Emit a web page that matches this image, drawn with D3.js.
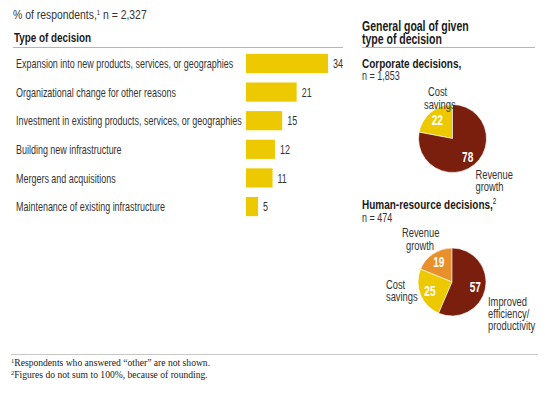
<!DOCTYPE html>
<html>
<head>
<meta charset="utf-8">
<script src="https://cdn.jsdelivr.net/npm/d3@7"></script>
<style>
  body { margin: 0; background: #fff; }
  svg { display: block; }
  .sans { font-family: 'Liberation Sans', Arial, sans-serif; }
  .serif { font-family: 'Liberation Serif', 'DejaVu Serif', serif; }
</style>
</head>
<body>
<div id="chart"></div>
<script>
// ── data ────────────────────────────────────────────────────────────
const decisionTypes = [
  'Expansion into new products, services, or geographies',
  'Organizational change for other reasons',
  'Investment in existing products, services, or geographies',
  'Building new infrastructure',
  'Mergers and acquisitions',
  'Maintenance of existing infrastructure'
];
const decisionShares = [34, 21, 15, 12, 11, 5];

const corporateGoals = ['Cost savings', 'Revenue growth'];
const corporateShares = [22, 78];

const hrGoals = ['Revenue growth', 'Cost savings', 'Improved efficiency/productivity'];
const hrShares = [19, 25, 57];

const footnotes = [
  ['1', 'Respondents who answered “other” are not shown.'],
  ['2', 'Figures do not sum to 100%, because of rounding.']
];

// ── setup ───────────────────────────────────────────────────────────
const width = 545, height = 394;
const YELLOW = '#ecc900', BROWN = '#7a1f0e', ORANGE = '#e8902b';

const svg = d3.select('#chart').append('svg')
  .attr('width', width).attr('height', height)
  .attr('viewBox', [0, 0, width, height]);

const left  = svg.append('g').attr('class', 'sans');
const right = svg.append('g').attr('class', 'sans');
const notes = svg.append('g').attr('class', 'serif');

// condensed text helper (no condensed face installed, so squeeze horizontally)
function ctext(g, x, y, size, bold, squeeze = 0.7) {
  return g.append('text')
    .attr('transform', `translate(${x},${y}) scale(${squeeze},1)`)
    .attr('font-size', size)
    .attr('font-weight', bold ? 'bold' : 'normal')
    .attr('fill', bold ? '#1a1a1a' : '#333');
}

// ── bar chart ───────────────────────────────────────────────────────
const subtitle = ctext(left, 13, 19, 13, false, 0.8);
subtitle.append('tspan').text('% of respondents,');
subtitle.append('tspan').attr('font-size', 7.5).attr('dy', -4.5).text('1');
subtitle.append('tspan').attr('dy', 4.5).text(' n = 2,327');

ctext(left, 14, 42, 13, true, 0.76).text('Type of decision');
left.append('line').attr('x1', 13).attr('x2', 343).attr('y1', 47.5).attr('y2', 47.5)
  .attr('stroke', '#b5b5b5').attr('stroke-width', 1);

const x = d3.scaleLinear().domain([0, 34]).range([246, 328]);
const y = d3.scaleBand().domain(decisionTypes).range([49, 221]).paddingInner(0.33).paddingOuter(0.17);

const rows = decisionTypes.map((d, i) => ({ label: d, value: decisionShares[i] }));

left.selectAll('rect').data(rows).join('rect')
  .attr('x', x(0)).attr('y', d => y(d.label))
  .attr('width', d => x(d.value) - x(0)).attr('height', y.bandwidth())
  .attr('fill', YELLOW);

rows.forEach(d => {
  const cy = y(d.label) + y.bandwidth() / 2 + 4.6;
  ctext(left, 16, cy, 13, false, 0.69).text(d.label);
  ctext(left, x(d.value) + 5, cy, 13, false, 0.69).text(d.value);
});

// ── pies ────────────────────────────────────────────────────────────
ctext(right, 362, 31, 14, true, 0.75).text('General goal of given');
ctext(right, 362, 44, 14, true, 0.75).text('type of decision');
right.append('line').attr('x1', 362).attr('x2', 535).attr('y1', 47.5).attr('y2', 47.5)
  .attr('stroke', '#b5b5b5').attr('stroke-width', 1);

function drawPie(g, opts) {
  const { cx, cy, r, names, values, colors, title, sup, n, labels } = opts;

  const t = ctext(g, 362, opts.titleY, 13.5, true, 0.74);
  t.append('tspan').text(title);
  if (sup) t.append('tspan').attr('font-size', 8.5).attr('font-weight', 'normal').attr('dy', -5).text(sup);
  ctext(g, 362, opts.titleY + 12.5, 12.5, false, 0.72).text(n);

  const data = names.map((d, i) => ({ name: d, value: values[i], color: colors[i] }));
  // slices run counter-clockwise from 12 o'clock for the leading categories
  const pie = d3.pie().sort(null).value(d => d.value)
    .startAngle(0).endAngle(-2 * Math.PI);
  const arc = d3.arc().innerRadius(0).outerRadius(r);
  const arcs = pie(data);

  const pg = g.append('g').attr('transform', `translate(${cx},${cy})`);
  pg.selectAll('path').data(arcs).join('path')
    .attr('d', arc).attr('fill', d => d.data.color)
    .attr('stroke', '#fff').attr('stroke-width', 0.6);

  const inner = d3.arc().innerRadius(r * 0.7).outerRadius(r * 0.7);
  arcs.forEach(d => {
    const [px, py] = inner.centroid(d);
    ctext(pg, px, py + 5, 14, true, 0.72).attr('fill', '#fff')
      .attr('text-anchor', 'middle').text(d.data.value);
  });

  labels.forEach(l => {
    const txt = ctext(g, l.x, l.y, 13, false, 0.72);
    l.lines.forEach((line, j) => {
      txt.append('tspan').attr('x', 0).attr('dy', j === 0 ? 0 : 12.3).text(line);
    });
  });
}

drawPie(right, {
  cx: 452.5, cy: 138.5, r: 34,
  names: corporateGoals, values: corporateShares, colors: [YELLOW, BROWN],
  title: 'Corporate decisions,', sup: null, n: 'n = 1,853', titleY: 67.5,
  labels: [
    { x: 428, y: 96, lines: ['Cost'] },
    { x: 424, y: 108.5, lines: ['savings'] },
    { x: 475.5, y: 179, lines: ['Revenue', 'growth'] }
  ]
});

drawPie(right, {
  cx: 452, cy: 282, r: 34,
  names: hrGoals, values: hrShares, colors: [ORANGE, YELLOW, BROWN],
  title: 'Human-resource decisions,', sup: '2', n: 'n = 474', titleY: 209,
  labels: [
    { x: 402, y: 237, lines: ['Revenue'] },
    { x: 406, y: 249.5, lines: ['growth'] },
    { x: 386, y: 289, lines: ['Cost', 'savings'] },
    { x: 488, y: 305.5, lines: ['Improved', 'efficiency/', 'productivity'] }
  ]
});

// ── footnotes ───────────────────────────────────────────────────────
notes.append('line').attr('x1', 11).attr('x2', 538).attr('y1', 354.5).attr('y2', 354.5)
  .attr('stroke', '#c8c8c8').attr('stroke-width', 1);

footnotes.forEach(([mark, text], i) => {
  const t = notes.append('text').attr('x', 11).attr('y', 366 + i * 11.5)
    .attr('font-size', 9.6).attr('fill', '#222');
  t.append('tspan').attr('font-size', 6.5).attr('dy', -3).text(mark);
  t.append('tspan').attr('dy', 3).text(text);
});
</script>
</body>
</html>
